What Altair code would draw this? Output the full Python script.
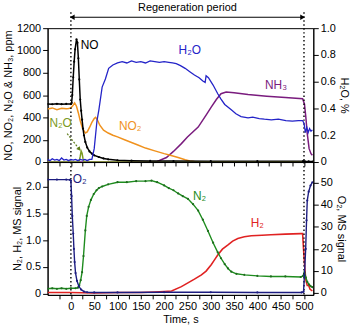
import altair as alt
import pandas as pd

# ---------------- data ----------------
NO_t = [-50, -40, -30, -20, -10, 0, 1.5, 3, 5, 7, 9, 12, 14, 16, 18, 20, 22, 24, 26, 28, 31, 35, 40, 45, 50, 60, 70, 80, 100, 130, 170, 220, 300, 400, 498, 502, 510, 520]
NO_v = [520, 518, 522, 519, 521, 520, 530, 600, 760, 900, 1010, 1100, 1070, 930, 740, 560, 460, 380, 300, 240, 180, 130, 95, 75, 60, 45, 32, 24, 16, 12, 10, 9, 8, 8, 8, 6, 5, 5]

NO2_t = [-50, -40, -30, -20, -10, -5, 0, 4, 8, 12, 16, 20, 25, 31, 35, 40, 45, 50, 53, 57, 62, 70, 80, 90, 100, 115, 130, 145, 160, 180, 200, 215, 230, 245, 255, 265, 280, 300, 400, 500, 510, 520]
NO2_v = [475, 485, 470, 482, 478, 480, 485, 505, 530, 500, 440, 370, 300, 260, 270, 310, 355, 390, 400, 375, 330, 285, 260, 240, 225, 200, 175, 150, 125, 100, 75, 58, 40, 20, 10, 4, 0, 0, 0, 0, 0, 0]

N2O_t = [-50, 0, 15, 18, 20, 22, 24, 26, 28, 30, 100, 300, 500, 520]
N2O_v = [0, 0, 0, 10, 50, 98, 80, 30, 5, 0, 0, 0, 0, 0]

NH3_t = [-50, 100, 185, 205, 220, 237, 250, 273, 290, 301, 312, 322, 333, 350, 380, 420, 460, 497, 501, 504, 507, 511, 515, 518]
NH3_v = [0, 0, 5, 40, 95, 165, 225, 313, 420, 492, 560, 612, 627, 622, 605, 590, 578, 568, 520, 400, 254, 120, 75, 60]

H2O_t = [-50, -45, -40, -35, -30, -25, -20, -15, -10, -5, 0, 5, 10, 15, 20, 25, 30, 35, 40, 45, 50, 56, 60, 67, 74, 81, 90, 100,
         110, 120, 130, 140, 150, 160, 170, 180, 190, 200, 210, 218, 226, 235, 245, 255, 265, 275, 283, 288, 290, 295, 305, 315, 322, 330, 344,
         354, 365, 380, 390, 404, 415, 430, 445, 461, 475, 488, 497, 500, 503, 506, 509, 512, 515, 518]
H2O_v = [0.02, 0.01, 0.025, 0.015, 0.02, 0.01, 0.03, 0.015, 0.02, 0.01, 0.02, 0.015, 0.02, 0.01, 0.02, 0.015, 0.02, 0.01, 0.02, 0.02, 0.1, 0.31, 0.39, 0.56, 0.62, 0.70, 0.725, 0.74,
         0.75, 0.74, 0.755, 0.745, 0.75, 0.74, 0.755, 0.75, 0.745, 0.75, 0.745, 0.74, 0.735, 0.72, 0.70, 0.675, 0.65, 0.63, 0.605, 0.595, 0.645, 0.63, 0.575, 0.51, 0.47, 0.43, 0.39,
         0.36, 0.34, 0.33, 0.335, 0.325, 0.32, 0.315, 0.32, 0.31, 0.305, 0.31, 0.31, 0.29, 0.22, 0.26, 0.22, 0.25, 0.23, 0.24]

O2_t = [-50, -30, -10, -2, 0, 1.5, 3, 5, 6.5, 8, 10, 13, 17, 22, 28, 35, 50, 100, 200, 300, 400, 495, 499, 501, 503.6, 505.5, 507, 510, 514, 518]
O2_v = [51.5, 51.5, 51.5, 51.4, 51, 44, 35, 27, 20, 14, 9, 5.5, 3, 1.5, 0.6, 0.3, 0.2, 0.2, 0.3, 0.3, 0.2, 0.2, 0.5, 8, 20, 33, 42, 46, 48.8, 50.3]

N2_t = [-50, -40, -30, -20, -10, 0, 10, 15, 18, 21, 24, 27, 31, 34, 38, 43, 49, 55, 60, 67, 80, 100, 120, 140, 160, 173, 185, 200, 210, 220, 230, 240,
        251, 262, 273, 283, 294, 305, 315, 322, 330, 337, 344, 355, 372, 400, 429, 460, 493, 498, 501, 504, 507, 511, 514, 518]
N2_v = [0.09, 0.1, 0.09, 0.1, 0.09, 0.1, 0.1, 0.11, 0.15, 0.25, 0.4, 0.7, 1.18, 1.45, 1.62, 1.75, 1.86, 1.93, 1.97, 2.0, 2.04, 2.08, 2.08, 2.1, 2.1, 2.11, 2.08, 2.02, 1.97, 1.93, 1.87, 1.82,
        1.77, 1.67, 1.55, 1.38, 1.17, 0.95, 0.77, 0.66, 0.55, 0.47, 0.41, 0.37, 0.35, 0.33, 0.32, 0.32, 0.31, 0.33, 0.4, 0.3, 0.22, 0.17, 0.14, 0.12]

H2_t = [-50, 0, 50, 100, 150, 180, 200, 216, 237, 251, 265, 280, 290, 301, 308, 315, 325, 337, 347, 358, 372, 387, 410, 429, 460, 493, 497, 500, 502, 504, 507, 510, 513, 518]
H2_v = [0.02, 0.02, 0.01, 0.02, 0.02, 0.03, 0.04, 0.05, 0.13, 0.2, 0.27, 0.35, 0.42, 0.54, 0.63, 0.72, 0.83, 0.91, 0.98, 1.03, 1.06, 1.08, 1.09, 1.10, 1.11, 1.12, 1.12, 0.7, 0.45, 0.25, 0.15, 0.15, 0.08, 0.05]

PERIOD_T = [0, 500]

TOP_SERIES = ["NH3", "NO2", "N2O", "NO"]
TOP_COLORS = ["#7a1c7e", "#f0921e", "#7c9a22", "#000000"]

# labels: (text, t, value, color)
TOP_LABELS = [("NO", 40, 1045, "#000000"), ("NO₂", 127, 320, "#f0921e"), ("N₂O", -22, 350, "#7c9a22"),
              ("H₂O", 255, 1005, "#2424c8"), ("NH₃", 440, 690, "#7a1c7e")]
BOT_LABELS = [("O₂", 19, 2.13, "#1c1c80"), ("N₂", 276, 1.83, "#1e8c1e"), ("H₂", 400, 1.32, "#e02222")]
N2O_ARROW_T = [-8, 17]
N2O_ARROW_V = [254, 120]

X_DOMAIN = [-50, 520]
X_TICKS = list(range(-25, 501, 25))

W = 268
FONT = "Liberation Sans"


def frame(name, t, v):
    return pd.DataFrame({"series": name, "t": t, "v": v})


top_df = pd.concat([frame("NH3", NH3_t, NH3_v), frame("NO2", NO2_t, NO2_v),
                    frame("N2O", N2O_t, N2O_v), frame("NO", NO_t, NO_v)])
h2o_df = frame("H2O", H2O_t, H2O_v)
o2_df = frame("O2", O2_t, O2_v)
n2_df = frame("N2", N2_t, N2_v)
h2_df = frame("H2", H2_t, H2_v)
period_df = pd.DataFrame({"t": PERIOD_T})
top_lab = pd.DataFrame(TOP_LABELS, columns=["text", "t", "v", "color"])
bot_lab = pd.DataFrame(BOT_LABELS, columns=["text", "t", "v", "color"])
arrow_df = pd.DataFrame({"t": [N2O_ARROW_T[0]], "v": [N2O_ARROW_V[0]], "t2": [N2O_ARROW_T[1]], "v2": [N2O_ARROW_V[1]]})
arrow_head = pd.DataFrame({"t": [N2O_ARROW_T[1]], "v": [N2O_ARROW_V[1]]})

xscale = alt.Scale(domain=X_DOMAIN, nice=False, zero=False)
top_xaxis = alt.Axis(values=X_TICKS, labels=False, title=None, tickSize=4)
bot_xaxis = alt.Axis(values=X_TICKS, title="Time, s", tickSize=4,
                     labelExpr="datum.value % 50 == 0 && datum.value >= 0 ? datum.value : ''",
                     labelPadding=2, titlePadding=2)


def X(axis):
    return alt.X("t:Q", scale=xscale, axis=axis)


dotted = dict(color="black", strokeDash=[1.5, 2.5], strokeWidth=1.4)

# ---------------- header ----------------
hx = alt.X("t:Q", scale=xscale, axis=None)
h_rules = alt.Chart(period_df).mark_rule(**dotted).encode(x=hx, y=alt.value(11), y2=alt.value(27))
h_line = alt.Chart(period_df).mark_line(color="black", strokeWidth=1).encode(x=hx, y=alt.value(16))
h_left = alt.Chart(pd.DataFrame({"t": [PERIOD_T[0] + 3]})).mark_point(
    shape="triangle-left", filled=True, color="black", size=30, opacity=1).encode(x=hx, y=alt.value(16))
h_right = alt.Chart(pd.DataFrame({"t": [PERIOD_T[1] - 3]})).mark_point(
    shape="triangle-right", filled=True, color="black", size=30, opacity=1).encode(x=hx, y=alt.value(16))
h_text = alt.Chart(pd.DataFrame({"t": [250], "text": ["Regeneration period"]})).mark_text(
    font=FONT, fontSize=11, color="black", baseline="middle").encode(x=hx, y=alt.value(6.5), text="text:N")
header = alt.layer(h_rules, h_line, h_left, h_right, h_text).properties(
    width=W, height=27, view=alt.ViewBackground(stroke=None))

# ---------------- top panel ----------------
ty = alt.Y("v:Q", scale=alt.Scale(domain=[0, 1200], nice=False),
           axis=alt.Axis(values=list(range(0, 1201, 200)), format="d", title="NO, NO₂, N₂O & NH₃, ppm",
                         tickSize=5, titlePadding=3))
top_lines = alt.Chart(top_df).mark_line(strokeWidth=1.5, clip=True).encode(
    x=X(top_xaxis), y=ty,
    color=alt.Color("series:N", scale=alt.Scale(domain=TOP_SERIES, range=TOP_COLORS), legend=None),
    detail="series:N")
no_pts = alt.Chart(frame("NO", NO_t, NO_v)).mark_point(filled=True, size=5, color="black", opacity=1, clip=True).encode(x=X(top_xaxis), y=ty)
top_rules = alt.Chart(period_df).mark_rule(**dotted).encode(x=X(top_xaxis))
top_text = alt.Chart(top_lab).mark_text(font=FONT, fontSize=12).encode(
    x=X(top_xaxis), y=ty, text="text:N", color=alt.Color("color:N", scale=None))
n2o_arrow = alt.Chart(arrow_df).mark_rule(color="#5f7d1a", strokeWidth=1.2, strokeDash=[2, 1.5]).encode(
    x=X(top_xaxis), y=ty, x2="t2:Q", y2="v2:Q")
n2o_head = alt.Chart(arrow_head).mark_point(shape="triangle", angle=142, filled=True, color="#5f7d1a",
                                            size=22, opacity=1).encode(x=X(top_xaxis), y=ty)
top_left = alt.layer(top_lines, no_pts, top_rules, n2o_arrow, n2o_head, top_text)

h2o_y = alt.Y("v:Q", scale=alt.Scale(domain=[0, 1.0], nice=False),
              axis=alt.Axis(orient="right", values=[0, 0.2, 0.4, 0.6, 0.8, 1.0], title="H₂O, %", tickSize=5,
                            labelExpr="datum.value == 0 ? '0' : format(datum.value, '.1f')", titlePadding=3))
h2o_line = alt.Chart(h2o_df).mark_line(color="#2424c8", strokeWidth=1.3, clip=True).encode(x=X(top_xaxis), y=h2o_y)
top = alt.layer(top_left, h2o_line).resolve_scale(y="independent").properties(width=W, height=135)

# ---------------- bottom panel ----------------
by = alt.Y("v:Q", scale=alt.Scale(domain=[-0.024, 2.457], nice=False, zero=False),
           axis=alt.Axis(values=[0, 0.5, 1.0, 1.5, 2.0], title="N₂, H₂, MS signal", tickSize=5, titlePadding=3,
                         labelExpr="datum.value == 0 ? '0' : format(datum.value, '.1f')"))
n2_line = alt.Chart(n2_df).mark_line(color="#1e8c1e", strokeWidth=1.4, clip=True).encode(x=X(bot_xaxis), y=by)
n2_pts = alt.Chart(n2_df).mark_point(filled=True, size=5, color="#1e6c1e", opacity=1, clip=True).encode(x=X(bot_xaxis), y=by)
h2_line = alt.Chart(h2_df).mark_line(color="#e02222", strokeWidth=1.6, clip=True).encode(x=X(bot_xaxis), y=by)
bot_rules = alt.Chart(period_df).mark_rule(**dotted).encode(x=X(bot_xaxis))
bot_text = alt.Chart(bot_lab).mark_text(font=FONT, fontSize=12).encode(
    x=X(bot_xaxis), y=by, text="text:N", color=alt.Color("color:N", scale=None))
bot_left = alt.layer(h2_line, n2_line, n2_pts, bot_rules, bot_text)

o2_y = alt.Y("v:Q", scale=alt.Scale(domain=[-0.9, 59.5], nice=False, zero=False),
             axis=alt.Axis(orient="right", values=[0, 10, 20, 30, 40, 50], title="O₂, MS signal", tickSize=5, titlePadding=3))
o2_line = alt.Chart(o2_df).mark_line(color="#1c1c80", strokeWidth=1.4, clip=True).encode(x=X(bot_xaxis), y=o2_y)
o2_pts = alt.Chart(o2_df).mark_point(filled=True, size=5, color="#1c1c80", opacity=1, clip=True).encode(x=X(bot_xaxis), y=o2_y)
o2_layer = alt.layer(o2_line, o2_pts)
bottom = alt.layer(bot_left, o2_layer).resolve_scale(y="independent").properties(width=W, height=134)

chart = alt.vconcat(header, top, bottom, spacing=0, bounds="flush").properties(
    padding={"left": 2, "right": 0, "top": 0, "bottom": 2}
).configure_view(stroke="black", strokeWidth=1).configure_axis(
    labelFont=FONT, titleFont=FONT, labelFontSize=11, titleFontSize=11, labelColor="black", titleColor="black",
    domainColor="black", tickColor="black", titleFontWeight="normal", grid=False, labelPadding=2
)

chart.save("out.html", embed_options={"renderer": "svg", "actions": False})
